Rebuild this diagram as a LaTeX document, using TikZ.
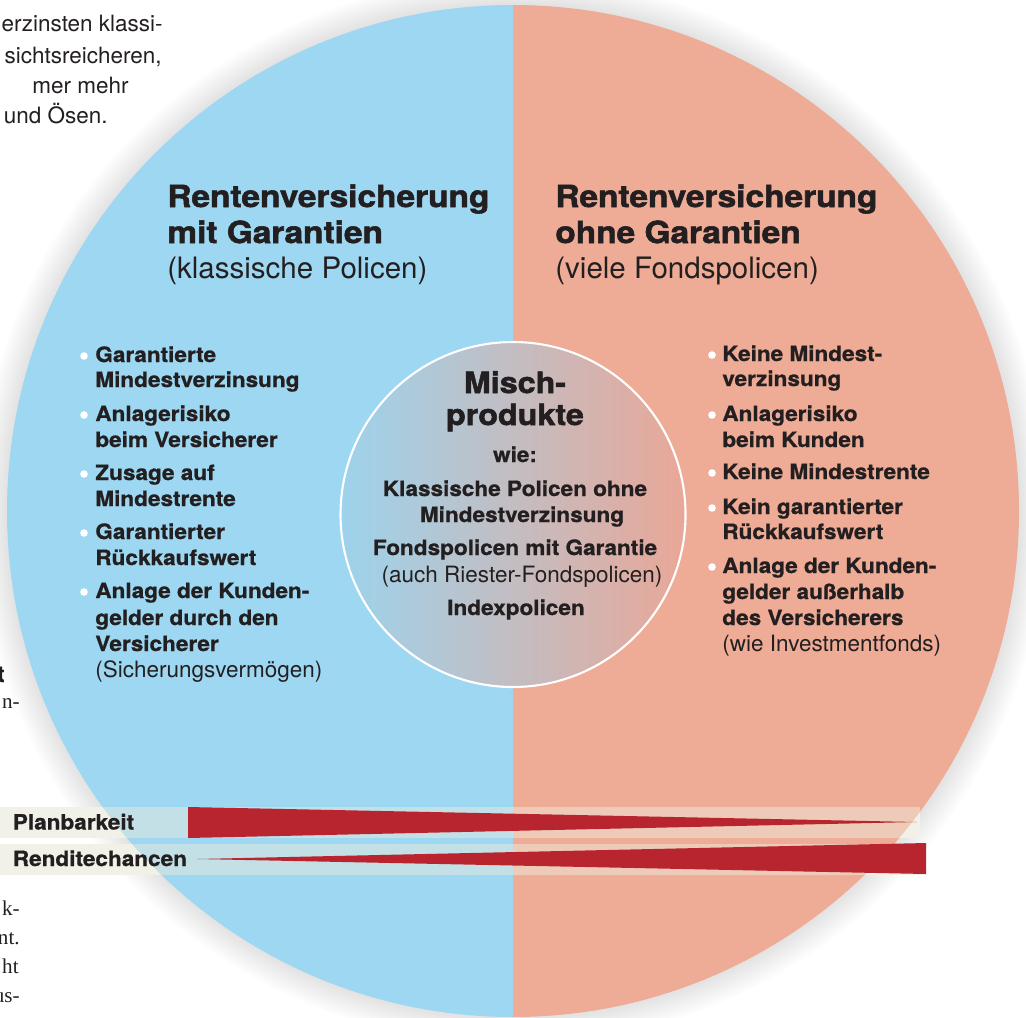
\documentclass[tikz,border=0pt]{standalone}
\usepackage{fontspec}
\setmainfont{TeX Gyre Heros}
\newfontfamily\widefont{TeX Gyre Heros}[FakeStretch=1.07,FakeBold=0.9]
\newfontfamily\heavyfont{TeX Gyre Heros}[FakeStretch=1.10,FakeBold=1.8]
\newfontfamily\seriffont{Liberation Serif}
\definecolor{blueC}{HTML}{9DD7F2}
\definecolor{pinkC}{HTML}{EEAB95}
\definecolor{redC}{HTML}{B8252F}
\definecolor{creamC}{HTML}{F2F1E8}
\definecolor{bandBlue}{HTML}{C2E0E6}
\definecolor{bandPink}{HTML}{EECBB8}
\definecolor{innerBlue}{HTML}{9DD3EC}
\definecolor{innerPink}{HTML}{E9A797}
\definecolor{inkC}{HTML}{231F20}
\begin{document}
\begin{tikzpicture}[x=0.02cm,y=-0.02cm,
    txt/.style={inner sep=0pt,text=inkC,anchor=base west},
    boldtxt/.style={txt,font=\widefont\bfseries\fontsize{12}{14}\selectfont},
    plaintxt/.style={txt,font=\fontsize{12.8}{15}\selectfont},
    headtxt/.style={txt,font=\heavyfont\bfseries\fontsize{17.3}{20}\selectfont},
    subtxt/.style={txt,font=\fontsize{16.8}{19}\selectfont},
    misctxt/.style={txt,anchor=base,font=\heavyfont\bfseries\fontsize{16.7}{19}\selectfont},
    seriftxt/.style={txt,anchor=base east,font=\seriffont\fontsize{12}{15}\selectfont}]
    \useasboundingbox (0,0) rectangle (1026,1017);
    \clip (0,0) rectangle (1026,1017);
    \coordinate (c) at (513,511);
    \coordinate (ci) at (513,514.5);
    % text of the page around the picture
    \node[plaintxt,anchor=base east] (p1) at (163,31.5){erzinsten klassi-};
    \node[plaintxt,anchor=base east] (p2) at (162,63.5){sichtsreicheren,};
    \node[plaintxt,anchor=base east] (p3) at (129,93){mer mehr};
    \node[plaintxt,anchor=base east] (p4) at (108,123.5){und Ösen.};
    \node[boldtxt,anchor=base east,font=\widefont\bfseries\fontsize{13}{15}\selectfont] (p5) at (5,682){t};
    \node[seriftxt] (p6) at (20,708){n-};
    \node[seriftxt] (p7) at (20,915){k-};
    \node[seriftxt] (p8) at (20,944){nt.};
    \node[seriftxt] (p9) at (19,973){ht};
    \node[seriftxt] (p10) at (20,1002){us-};
    % shadow of the big circle
    \foreach \k in {1,...,14}
        \fill[black,opacity=0.008] (c) circle (506+2*\k);
    % the two halves
    \begin{scope}
        \clip (c) circle (506);
        \fill[blueC] (0,0) rectangle (513,1017);
        \fill[pinkC] (513,0) rectangle (1026,1017);
    \end{scope}
    % Mischprodukte
    \shade[left color=innerBlue,right color=innerPink] (ci) circle (172.5);
    \draw[white,line width=1.2pt] (ci) circle (172.5);
    % bands
    \fill[creamC] (0,807) rectangle (920,838);
    \fill[creamC] (0,844) rectangle (926,875);
    \begin{scope}
        \clip (c) circle (506);
        \fill[bandBlue] (0,807) rectangle (513,838) (0,844) rectangle (513,875);
        \fill[bandPink] (513,807) rectangle (920,838) (513,844) rectangle (926,875);
    \end{scope}
    \fill[redC] (188,807) -- (917,822) -- (188,838) -- cycle;
    \fill[redC] (197,859) -- (926,843) -- (926,874) -- cycle;
    \node[boldtxt] (plan) at (12.5,829.5){Planbarkeit};
    \node[boldtxt] (rend) at (12.5,866){Renditechancen};
    % headings
    \node[headtxt] (hl1) at (167,207){Rentenversicherung};
    \node[headtxt] (hl2) at (167,243){mit Garantien};
    \node[subtxt] (hl3) at (167,278){(klassische Policen)};
    \node[headtxt] (hr1) at (555,207){Rentenversicherung};
    \node[headtxt] (hr2) at (555,243){ohne Garantien};
    \node[subtxt] (hr3) at (555,278){(viele Fondspolicen)};
    % left list
    \foreach \y/\t [count=\i] in {362/Garantierte,387/Mindestverzinsung,
        421/Anlagerisiko,447/beim Versicherer,480/Zusage auf,506/Mindestrente,
        539/Garantierter,565/Rückkaufswert,598/Anlage der Kunden-,
        625/gelder durch den,651/Versicherer}
        \node[boldtxt] (gl\i) at (95,\y){\t};
    \node[plaintxt] (gl12) at (95,677){(Sicherungsvermögen)};
    \foreach \y in {356,415,474,533,592}
        \fill[white] (84,\y) circle (3.8);
    % right list
    \foreach \y/\t [count=\i] in {361/Keine Mindest-,386/verzinsung,
        421/Anlagerisiko,447/beim Kunden,479/Keine Mindestrente,
        514/Kein garantierter,539/Rückkaufswert,573/Anlage der Kunden-,
        599/gelder außerhalb,625/des Versicherers}
        \node[boldtxt] (gr\i) at (722,\y){\t};
    \node[plaintxt] (gr11) at (722,651){(wie Investmentfonds)};
    \foreach \y in {355,415,473,508,567}
        \fill[white] (712,\y) circle (3.8);
    % middle
    \node[misctxt] (m1) at (515,393){Misch-};
    \node[misctxt] (m2) at (515,425){produkte};
    \node[boldtxt,anchor=base] (m3) at (515,462){wie:};
    \node[boldtxt,anchor=base] (m4) at (515,496){Klassische Policen ohne};
    \node[boldtxt,anchor=base] (m5) at (522,522){Mindestverzinsung};
    \node[boldtxt,anchor=base] (m6) at (515,555){Fondspolicen mit Garantie};
    \node[plaintxt,anchor=base] (m7) at (522,582){(auch Riester-Fondspolicen)};
    \node[boldtxt,anchor=base] (m8) at (516,615){Indexpolicen};
\end{tikzpicture}
\end{document}
